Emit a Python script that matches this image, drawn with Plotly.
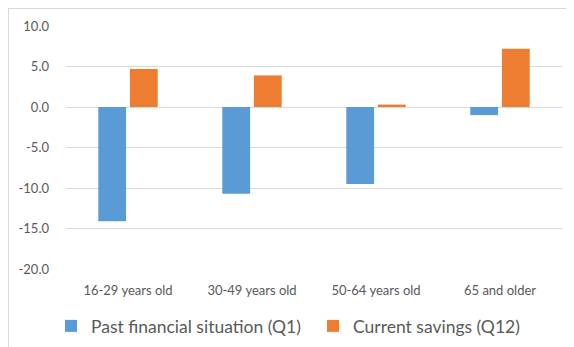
import plotly.graph_objects as go

categories = ["16-29 years old", "30-49 years old", "50-64 years old", "65 and older"]
past_financial = [-14.1, -10.7, -9.5, -1.0]
current_savings = [4.7, 3.9, 0.3, 7.2]
y_ticks = [10, 5, 0, -5, -10, -15, -20]

# the page places the figure 8px from the top-left corner, so the figure is
# sized to fill the rest of the 574x347 window
W, H = 566, 339
ML, MR, MT, MB = 58, 12, 18, 78
pw, ph = W - ML - MR, H - MT - MB

def px_x(p):
    return (p - ML) / pw

def px_y(p):
    return (H - MB - p) / ph

font = "Lato, Open Sans, sans-serif"
grey = "#595959"

fig = go.Figure()
fig.add_trace(go.Bar(x=categories, y=past_financial, name="Past financial situation (Q1)",
                     marker=dict(color="#5b9bd5", line=dict(width=0)), legend="legend"))
fig.add_trace(go.Bar(x=categories, y=current_savings, name="Current savings (Q12)",
                     marker=dict(color="#ed7d31", line=dict(width=0)), legend="legend2"))

leg_common = dict(orientation="h", yanchor="middle", y=px_y(318), xanchor="left",
                  font=dict(size=17.5, color=grey), bgcolor="rgba(0,0,0,0)")

fig.update_layout(
    width=W, height=H,
    margin=dict(l=ML, r=MR, t=MT, b=MB, autoexpand=False),
    paper_bgcolor="white", plot_bgcolor="white",
    barmode="group", bargap=0.49, bargroupgap=0.12,
    font=dict(family=font, color=grey, size=13),
    xaxis=dict(showgrid=False, showline=False, ticks="", ticklabelstandoff=12,
               tickfont=dict(size=13, color=grey)),
    yaxis=dict(range=[-20, 10], tickvals=y_ticks, ticktext=[f"{v:.1f}" for v in y_ticks],
               showgrid=True, gridcolor="#d9d9d9", gridwidth=1,
               zeroline=True, zerolinecolor="#d9d9d9", zerolinewidth=1,
               showline=False, ticks="", ticklabelstandoff=16,
               tickfont=dict(size=13, color=grey)),
    legend=dict(x=px_x(43), **leg_common),
    legend2=dict(x=px_x(305), **leg_common),
    showlegend=True,
)

# chart border (top and left edges visible in the reference)
fig.add_shape(type="line", xref="paper", yref="paper",
              x0=px_x(0), x1=px_x(W), y0=px_y(0.5), y1=px_y(0.5),
              line=dict(color="#d9d9d9", width=1), layer="above")
fig.add_shape(type="line", xref="paper", yref="paper",
              x0=px_x(0.5), x1=px_x(0.5), y0=px_y(0), y1=px_y(H),
              line=dict(color="#d9d9d9", width=1), layer="above")

fig.write_html("out.html")
